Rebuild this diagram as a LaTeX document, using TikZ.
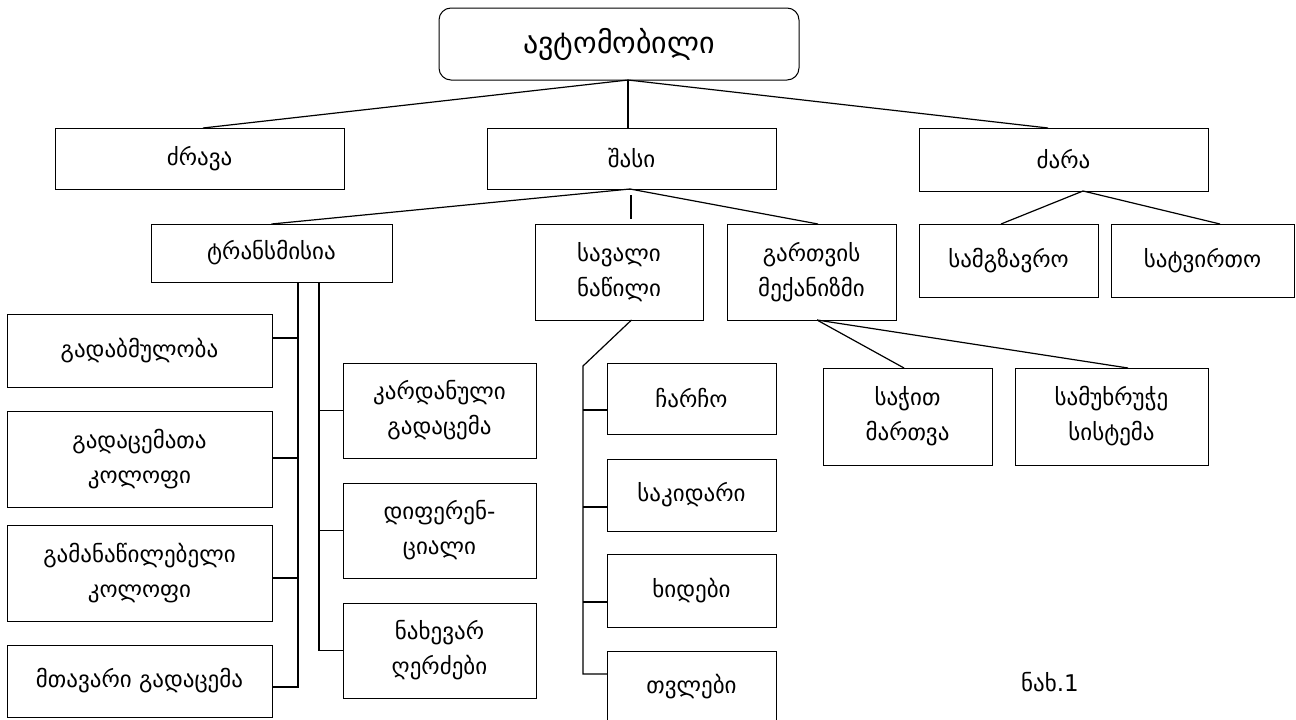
\documentclass[tikz,border=0pt]{standalone}
\usepackage{fontspec}
\setmainfont{DejaVu Sans}
\usetikzlibrary{calc}
\begin{document}
\begin{tikzpicture}[x=1pt,y=-1pt,
  every node/.style={inner sep=0pt,outer sep=0pt},
  box/.style={draw,line width=1pt,align=center,font=\fontsize{23}{35}\selectfont},
  topbox/.style={box,rounded corners=12pt,font=\fontsize{30}{36}\selectfont},
  conn/.style={line width=1.2pt}]
\useasboundingbox (0,0) rectangle (1296,720);
% level 0
\node[topbox,minimum width=360pt,minimum height=72pt] (top) at (619,44) {ავტომობილი};
% level 1
\node[box,minimum width=289pt,minimum height=61pt] (dr) at (199.5,158.5) {ძრავა};
\node[box,minimum width=289pt,minimum height=61pt] (sh) at (631.5,158.5) {შასი};
\node[box,minimum width=289pt,minimum height=63pt] (ka) at (1063.5,159.5) {ძარა};
% level 2
\node[box,minimum width=241pt,minimum height=58pt] (tr) at (271.5,253) {ტრანსმისია};
\node[box,minimum width=168pt,minimum height=96pt] (sv) at (619,272) {სავალი\\ნაწილი};
\node[box,minimum width=169pt,minimum height=96pt] (gm) at (811.5,272) {გართვის\\მექანიზმი};
\node[box,minimum width=179pt,minimum height=73pt] (sg) at (1008.5,260.5) {სამგზავრო};
\node[box,minimum width=183pt,minimum height=73pt] (st) at (1202.5,260.5) {სატვირთო};
% transmission children, left column
\node[box,minimum width=265pt,minimum height=73pt] (L1) at (139.5,350.5) {გადაბმულობა};
\node[box,minimum width=265pt,minimum height=96pt] (L2) at (139.5,459) {გადაცემათა\\კოლოფი};
\node[box,minimum width=265pt,minimum height=96pt] (L3) at (139.5,573) {გამანაწილებელი\\კოლოფი};
\node[box,minimum width=265pt,minimum height=72pt] (L4) at (139.5,681) {მთავარი გადაცემა};
% transmission children, right column
\node[box,minimum width=193pt,minimum height=95pt] (R1) at (439.5,410.5) {კარდანული\\გადაცემა};
\node[box,minimum width=193pt,minimum height=95pt] (R2) at (439.5,530.5) {დიფერენ-\\ციალი};
\node[box,minimum width=193pt,minimum height=95pt] (R3) at (439.5,650.5) {ნახევარ\\ღერძები};
% running gear children
\node[box,minimum width=169pt,minimum height=71pt] (C1) at (691.5,398.5) {ჩარჩო};
\node[box,minimum width=169pt,minimum height=72pt] (C2) at (691.5,495) {საკიდარი};
\node[box,minimum width=169pt,minimum height=73pt] (C3) at (691.5,590.5) {ხიდები};
\node[box,minimum width=169pt,minimum height=72pt] (C4) at (691.5,687) {თვლები};
% control mechanism children
\node[box,minimum width=169pt,minimum height=97pt] (M1) at (907.5,416.5) {საჭით\\მართვა};
\node[box,minimum width=193pt,minimum height=97pt] (M2) at (1111.5,416.5) {სამუხრუჭე\\სისტემა};
% caption
\node[font=\fontsize{23}{26}\selectfont] (cap) at (1050,682) {ნახ.1};
% connectors level 0 -> 1
\coordinate (topb) at ([xshift=9pt]top.south);
\draw[conn] (topb) -- ([xshift=3.5pt]dr.north);
\draw[conn] (topb) -- (topb |- sh.north);
\draw[conn] (topb) -- ([xshift=-15.5pt]ka.north);
% shasi -> level 2
\coordinate (shb) at ([xshift=-1.5pt]sh.south);
\draw[conn] (shb) -- (tr.north);
\draw[conn] (shb) -- ([xshift=6.5pt]gm.north);
\coordinate (svs) at (631,195);
\coordinate (sve) at (631,219);
\draw[conn] (svs) -- (sve);
% dzara -> children
\coordinate (kab) at ([xshift=19.5pt]ka.south);
\draw[conn] (kab) -- ([xshift=-7.5pt]sg.north);
\draw[conn] (kab) -- ([xshift=17.5pt]st.north);
% transmission trunks
\coordinate (trL) at (298,282);
\coordinate (trR) at (319,282);
\coordinate (j1) at (298,338);
\coordinate (j2) at (298,458);
\coordinate (j3) at (298,578);
\coordinate (j4) at (298,687);
\draw[conn] (trL) -- (j4) -- (L4.east |- j4);
\draw[conn] (j1) -- (L1.east |- j1);
\draw[conn] (j2) -- (L2.east |- j2);
\draw[conn] (j3) -- (L3.east |- j3);
\draw[conn] (trR) |- (R3.west);
\draw[conn] (R1.west -| trR) -- (R1.west);
\draw[conn] (R2.west -| trR) -- (R2.west);
% running gear trunk
\coordinate (kt) at (583,366);
\coordinate (k1) at (583,410);
\coordinate (k2) at (583,507);
\coordinate (k3) at (583,602);
\coordinate (k4) at (583,674);
\draw[conn] ([xshift=12.5pt]sv.south) -- (kt) -- (k4) -- (C4.west |- k4);
\draw[conn] (k1) -- (C1.west |- k1);
\draw[conn] (k2) -- (C2.west |- k2);
\draw[conn] (k3) -- (C3.west |- k3);
% control mechanism -> children
\coordinate (gmb) at ([xshift=5.5pt]gm.south);
\draw[conn] (gmb) -- ([xshift=-3.5pt]M1.north);
\draw[conn] (gmb) -- ([xshift=16.5pt]M2.north);
\end{tikzpicture}
\end{document}
